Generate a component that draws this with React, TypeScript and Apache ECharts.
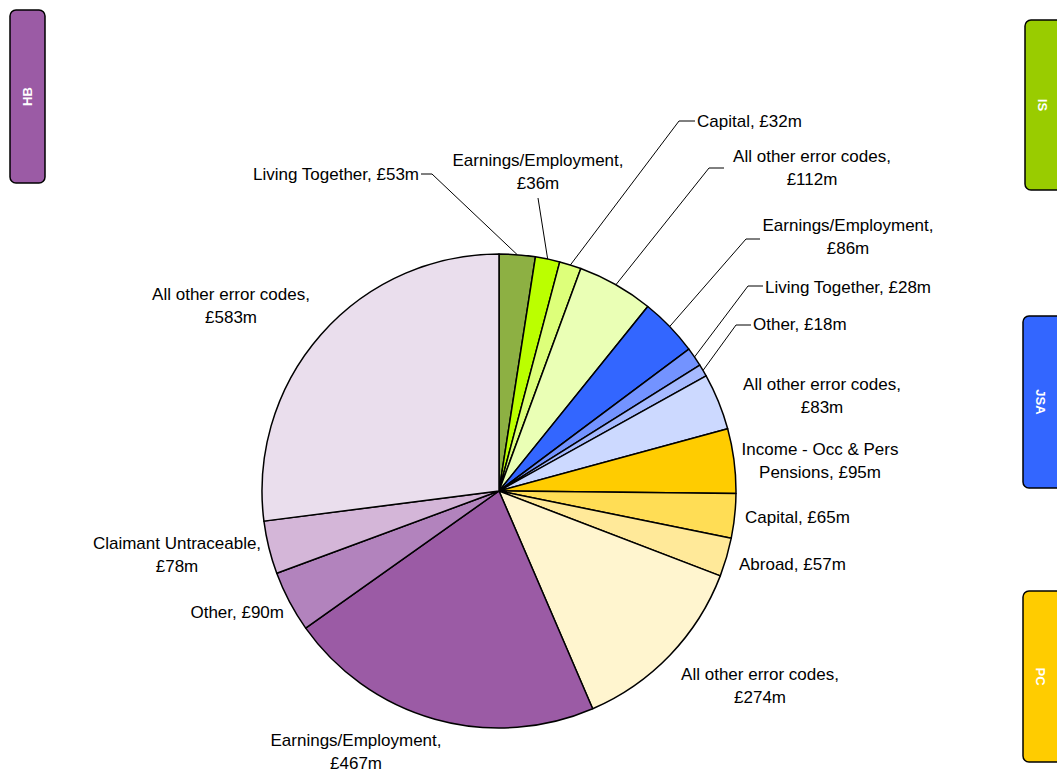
import React, { useEffect, useRef } from "react";
import * as echarts from "echarts";

// ---- data ----
const groups = ["IS", "JSA", "PC", "HB"];
const categories = [
  "Living Together", "Earnings/Employment", "Capital", "All other error codes",
  "Earnings/Employment", "Living Together", "Other", "All other error codes",
  "Income - Occ & Pers Pensions", "Capital", "Abroad", "All other error codes",
  "Earnings/Employment", "Other", "Claimant Untraceable", "All other error codes",
];
const values = [53, 36, 32, 112, 86, 28, 18, 83, 95, 65, 57, 274, 467, 90, 78, 583];
const labelTexts = [
  "Living Together, £53m",
  "Earnings/Employment,\n£36m",
  "Capital, £32m",
  "All other error codes,\n£112m",
  "Earnings/Employment,\n£86m",
  "Living Together, £28m",
  "Other, £18m",
  "All other error codes,\n£83m",
  "Income - Occ & Pers\nPensions, £95m",
  "Capital, £65m",
  "Abroad, £57m",
  "All other error codes,\n£274m",
  "Earnings/Employment,\n£467m",
  "Other, £90m",
  "Claimant Untraceable,\n£78m",
  "All other error codes,\n£583m",
];

// ---- styles / layout ----
const sliceColors = [
  "#8db043", "#bbff00", "#ddff7a", "#eaffb5",
  "#3366ff", "#7393ff", "#a6baff", "#ccd9ff",
  "#ffcc00", "#ffdd55", "#ffe999", "#fff5cf",
  "#9b5ba5", "#b283bd", "#d4b6d8", "#eadeed",
];
const groupColors = ["#99cc00", "#3366ff", "#ffcc00", "#9b5ba5"];
const CX = 499;
const CY = 491;
const R = 237;

type LabelPos = { x: number; y: number; align: string; line?: number[] };
const labelPos: LabelPos[] = [
  { x: 419, y: 174, align: "right", line: [432, 174, 421, 174] },
  { x: 538, y: 172, align: "center", line: [538, 198] },
  { x: 697, y: 121, align: "left", line: [679, 121, 695, 121] },
  { x: 812, y: 168, align: "center", line: [709, 168, 724, 168] },
  { x: 848, y: 237, align: "center", line: [746, 239, 760, 239] },
  { x: 765, y: 287, align: "left", line: [748, 286, 763, 286] },
  { x: 753, y: 324, align: "left", line: [736, 325, 751, 325] },
  { x: 822, y: 396, align: "center" },
  { x: 820, y: 461, align: "center" },
  { x: 745, y: 517, align: "left" },
  { x: 739, y: 564, align: "left" },
  { x: 760, y: 686, align: "center" },
  { x: 356, y: 752, align: "center" },
  { x: 284, y: 612, align: "right" },
  { x: 177, y: 555, align: "center" },
  { x: 231, y: 306, align: "center" },
];

const groupBoxes = [
  { x: 1025, y: 20, h: 170, rot: -Math.PI / 2 },
  { x: 1023, y: 316, h: 172, rot: -Math.PI / 2 },
  { x: 1023, y: 591, h: 171, rot: -Math.PI / 2 },
  { x: 10, y: 10, h: 173, rot: Math.PI / 2 },
];

const total = values.reduce((a, b) => a + b, 0);
function edgePoint(i: number): number[] {
  let before = 0;
  for (let k = 0; k < i; k++) before += values[k];
  const mid = ((before + values[i] / 2) / total) * Math.PI * 2;
  return [CX + R * Math.sin(mid), CY - R * Math.cos(mid)];
}

export default function App() {
  const ref = useRef<HTMLDivElement>(null);
  useEffect(() => {
    document.body.style.margin = "0";
    if (!ref.current) return;
    const chart = echarts.init(ref.current, undefined, { renderer: "svg" });
    const font = "'Liberation Sans', Arial, sans-serif";

    const graphics: any[] = [];
    groupBoxes.forEach((b, gi) => {
      const w = gi === 3 ? 35 : 50;
      graphics.push({
        type: "rect",
        shape: { x: b.x, y: b.y, width: w, height: b.h, r: 6 },
        style: { fill: groupColors[gi], stroke: "#000", lineWidth: 1.5 },
        z: 10,
      });
      const tx = gi === 3 ? b.x + 17.5 : b.x + 17;
      graphics.push({
        type: "text",
        x: tx,
        y: b.y + b.h / 2,
        rotation: b.rot,
        style: {
          text: groups[gi],
          fill: "#fff",
          font: `bold 13px ${font}`,
          align: "center",
          verticalAlign: "middle",
        },
        z: 11,
      });
    });

    chart.setOption({
      animation: false,
      backgroundColor: "#fff",
      graphic: graphics,
      series: [
        {
          type: "pie",
          center: [CX, CY],
          radius: [0, R],
          startAngle: 90,
          clockwise: true,
          avoidLabelOverlap: false,
          itemStyle: { borderColor: "#000", borderWidth: 1.5 },
          emphasis: { disabled: true },
          label: {
            show: true,
            position: "outside",
            color: "#000",
            fontSize: 17,
            fontFamily: font,
            lineHeight: 23,
            formatter: (p: any) => labelTexts[p.dataIndex],
          },
          labelLine: {
            show: true,
            lineStyle: { color: "#000", width: 1 },
            smooth: false,
          },
          labelLayout: (params: any) => {
            const i = params.dataIndex;
            const lp = labelPos[i];
            const out: any = {
              x: lp.x,
              y: lp.y,
              align: lp.align,
              verticalAlign: "middle",
            };
            if (lp.line) {
              const pts: number[][] = [edgePoint(i)];
              for (let k = 0; k < lp.line.length; k += 2) {
                pts.push([lp.line[k], lp.line[k + 1]]);
              }
              out.labelLinePoints = pts;
            }
            return out;
          },
          data: values.map((v, i) => ({
            name: categories[i],
            value: v,
            itemStyle: { color: sliceColors[i] },
            labelLine: { show: !!labelPos[i].line },
          })),
        },
      ],
    });
    return () => chart.dispose();
  }, []);
  return <div ref={ref} style={{ width: 1057, height: 773 }} />;
}
